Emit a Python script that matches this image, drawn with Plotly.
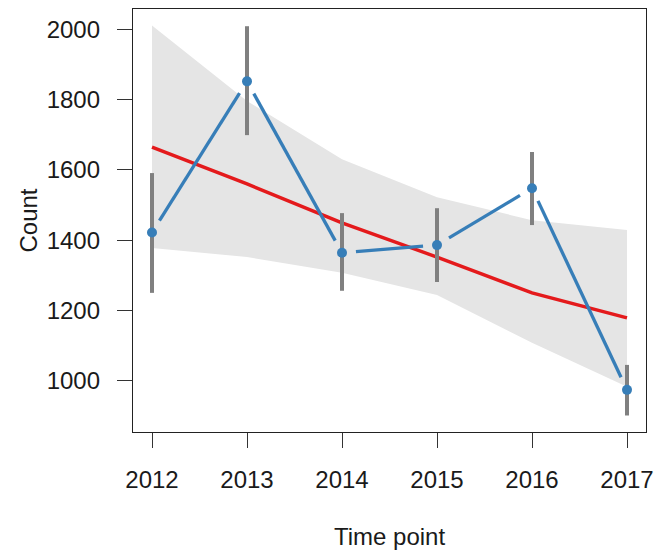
import plotly.graph_objects as go

# ---- data ----
years = [2012, 2013, 2014, 2015, 2016, 2017]
counts = [1422, 1852, 1364, 1386, 1548, 974]
err_low = [1250, 1699, 1256, 1281, 1443, 901]
err_high = [1591, 2009, 1477, 1491, 1651, 1045]
trend = [1665, 1560, 1449, 1352, 1250, 1179]
band_low = [1378, 1352, 1307, 1244, 1108, 983]
band_high = [2011, 1796, 1630, 1522, 1457, 1429]
x_ticks = [2012, 2013, 2014, 2015, 2016, 2017]
y_ticks = [1000, 1200, 1400, 1600, 1800, 2000]

# ---- layout geometry (page body has an 8px margin) ----
W, H = 658, 542
ML, MR, MT, MB = 125, 20, 1, 118
XR = [2011.8, 2017.2]
YR = [854, 2058]
pw, ph = W - ML - MR, H - MT - MB
sx = pw / (XR[1] - XR[0])
sy = ph / (YR[1] - YR[0])

BLUE = "#377EB8"
RED = "#E41A1C"
GREY = "#808080"
BAND = "#E5E5E5"
FONT = "Liberation Sans, Arial, sans-serif"

fig = go.Figure()

# confidence band
fig.add_trace(go.Scatter(x=years, y=band_low, mode="lines", line=dict(width=0),
                         hoverinfo="skip", showlegend=False))
fig.add_trace(go.Scatter(x=years, y=band_high, mode="lines", line=dict(width=0),
                         fill="tonexty", fillcolor=BAND, hoverinfo="skip", showlegend=False))

# trend line
fig.add_trace(go.Scatter(x=years, y=trend, mode="lines",
                         line=dict(color=RED, width=3.5), showlegend=False))

# error bars
ex, ey = [], []
for x, lo, hi in zip(years, err_low, err_high):
    ex += [x, x, None]
    ey += [lo, hi, None]
fig.add_trace(go.Scatter(x=ex, y=ey, mode="lines",
                         line=dict(color=GREY, width=4), showlegend=False))

# connecting segments with gaps around points (type="b" style)
gap = 14.0
bx, by = [], []
for i in range(len(years) - 1):
    x0, y0, x1, y1 = years[i], counts[i], years[i + 1], counts[i + 1]
    dxp, dyp = (x1 - x0) * sx, (y1 - y0) * sy
    d = (dxp ** 2 + dyp ** 2) ** 0.5
    f = gap / d
    bx += [x0 + (x1 - x0) * f, x1 - (x1 - x0) * f, None]
    by += [y0 + (y1 - y0) * f, y1 - (y1 - y0) * f, None]
fig.add_trace(go.Scatter(x=bx, y=by, mode="lines",
                         line=dict(color=BLUE, width=3.3), showlegend=False))

# points
fig.add_trace(go.Scatter(x=years, y=counts, mode="markers",
                         marker=dict(color=BLUE, size=10), showlegend=False))

axis_common = dict(showgrid=False, zeroline=False, showline=True, linecolor="#222222",
                   linewidth=1.3, mirror=True, ticks="outside", ticklen=15, tickwidth=1.3,
                   tickcolor="#333333", automargin=False,
                   tickfont=dict(family=FONT, size=24, color="#1a1a1a"))

fig.update_layout(
    width=W, height=H,
    margin=dict(l=ML, r=MR, t=MT, b=MB),
    paper_bgcolor="white", plot_bgcolor="white",
    font=dict(family=FONT, size=24, color="#1a1a1a"),
    xaxis=dict(range=XR, tickvals=x_ticks, ticktext=[str(v) for v in x_ticks],
               title=dict(text="Time point", standoff=37, font=dict(size=24)),
               ticklabelstandoff=11, **axis_common),
    yaxis=dict(range=YR, tickvals=y_ticks, ticktext=[str(v) for v in y_ticks],
               title=dict(text="Count", standoff=2, font=dict(size=24)),
               ticklabelstandoff=12, **axis_common),
)

fig.write_html("out.html")
